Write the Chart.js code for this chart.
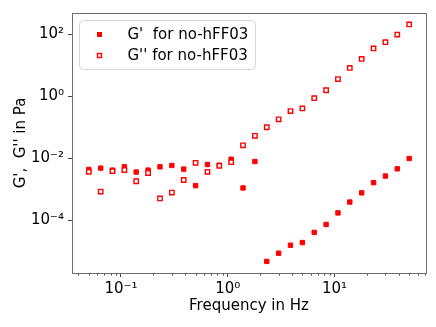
<!DOCTYPE html>
<html>
<head>
<meta charset="utf-8">
<script src="https://cdn.jsdelivr.net/npm/chart.js@4/dist/chart.umd.min.js"></script>
<style>
  html, body { margin: 0; padding: 0; background: #fff; }
</style>
</head>
<body>
<canvas id="myChart" width="436" height="327"></canvas>
<script>
// frequency sweep, Hz
const freqs = [0.05, 0.0646, 0.0834, 0.1077, 0.139, 0.1796, 0.232, 0.2997, 0.387, 0.5,
  0.646, 0.834, 1.077, 1.39, 1.796, 2.32, 2.997, 3.87, 5, 6.46,
  8.34, 10.77, 13.9, 17.96, 23.2, 29.97, 38.7, 50];
// storage modulus G'
const gStorage = [4.43e-3, 4.88e-3, 4.21e-3, 5.37e-3, 3.64e-3, 4.21e-3, 5.37e-3, 5.94e-3, 4.53e-3, 1.33e-3,
  6.39e-3, 6.08e-3, 9.44e-3, 1.12e-3, 7.98e-3, 4.82e-6, 8.87e-6, 1.60e-5, 1.95e-5, 4.14e-5,
  7.45e-5, 1.76e-4, 3.94e-4, 7.79e-4, 1.66e-3, 2.71e-3, 4.63e-3, 9.93e-3];
// loss modulus G''
const gLoss = [3.72e-3, 8.57e-4, 3.9e-3, 4.21e-3, 1.84e-3, 3.38e-3, 5.13e-4, 7.97e-4, 2.02e-3, 7.20e-3,
  3.72e-3, 5.8e-3, 7.59e-3, 2.64e-2, 5.37e-2, 0.101, 0.182, 0.336, 0.407, 0.874,
  1.57, 3.60, 8.25, 16.0, 35.0, 55.6, 97.8, 208];
const seriesLabels = ["G'  for no-hFF03", "G'' for no-hFF03"];
const xTicks = [0.1, 1, 10];
const xTickLabels = ["10\u207B\u00B9", "10\u2070", "10\u00B9"];
const yTicks = [1e-4, 1e-2, 1, 1e2];
const yTickLabels = ["10\u207B\u2074", "10\u207B\u00B2", "10\u2070", "10\u00B2"];

const FONT = "'DejaVu Sans', sans-serif";
Chart.defaults.font.family = FONT;
Chart.defaults.color = '#000';

// box around plot + minor x ticks
const frame = {
  id: 'frame',
  afterDraw(chart) {
    const ctx = chart.ctx;
    const a = chart.chartArea;
    const x = chart.scales.x;
    ctx.save();
    ctx.strokeStyle = '#444';
    ctx.lineWidth = 1;
    for (let d = 0.01; d <= 10; d *= 10) {
      for (let k = 2; k <= 9; k++) {
        const v = d * k;
        if (v < x.min || v > x.max) continue;
        const px = Math.round(x.getPixelForValue(v)) + 0.5;
        ctx.beginPath();
        ctx.moveTo(px, a.bottom);
        ctx.lineTo(px, a.bottom + 2.5);
        ctx.stroke();
      }
    }
    ctx.strokeStyle = '#6e6e6e';
    ctx.strokeRect(Math.round(a.left) + 0.5, Math.round(a.top) + 0.5,
      Math.round(a.right - a.left), Math.round(a.bottom - a.top));
    ctx.restore();
  }
};

// matplotlib-like legend box in the upper left
const boxLegend = {
  id: 'boxLegend',
  afterDatasetsDraw(chart) {
    const ctx = chart.ctx;
    const a = chart.chartArea;
    const bx = a.left + 7.5, by = a.top + 7.5, bw = 176, bh = 49, r = 4;
    ctx.save();
    ctx.beginPath();
    ctx.moveTo(bx + r, by);
    ctx.arcTo(bx + bw, by, bx + bw, by + bh, r);
    ctx.arcTo(bx + bw, by + bh, bx, by + bh, r);
    ctx.arcTo(bx, by + bh, bx, by, r);
    ctx.arcTo(bx, by, bx + bw, by, r);
    ctx.closePath();
    ctx.fillStyle = 'rgba(255,255,255,0.8)';
    ctx.fill();
    ctx.strokeStyle = '#d6d6d6';
    ctx.lineWidth = 1;
    ctx.stroke();
    ctx.font = '15px ' + FONT;
    ctx.textBaseline = 'middle';
    chart.data.datasets.forEach((ds, i) => {
      const cy = by + 14 + i * 21;
      ctx.fillStyle = ds.backgroundColor;
      ctx.strokeStyle = ds.borderColor;
      ctx.lineWidth = ds.borderWidth;
      ctx.fillRect(bx + 18, cy - 2, 4, 4);
      ctx.strokeRect(bx + 18, cy - 2, 4, 4);
      ctx.fillStyle = '#000';
      ctx.fillText(seriesLabels[i], bx + 48, cy + 1);
    });
    ctx.restore();
  }
};

const ctx = document.getElementById('myChart');
new Chart(ctx, {
  type: 'scatter',
  data: {
    datasets: [
      {
        label: seriesLabels[0],
        data: freqs.map((f, i) => ({ x: f, y: gStorage[i] })),
        pointStyle: 'rect',
        pointRadius: 3.1,
        backgroundColor: '#ff0000',
        borderColor: '#ff0000',
        borderWidth: 1,
        order: 1
      },
      {
        label: seriesLabels[1],
        data: freqs.map((f, i) => ({ x: f, y: gLoss[i] })),
        pointStyle: 'rect',
        pointRadius: 3.1,
        backgroundColor: '#ffffff',
        borderColor: '#ff0000',
        borderWidth: 1.4,
        order: 0
      }
    ]
  },
  options: {
    responsive: false,
    animation: false,
    events: [],
    layout: { padding: { left: 0, right: 10, top: 10, bottom: 0 } },
    plugins: { legend: { display: false }, tooltip: { enabled: false } },
    scales: {
      x: {
        type: 'logarithmic',
        min: 0.0348,
        max: 71.9,
        afterBuildTicks: s => { s.ticks = xTicks.map(v => ({ value: v })); },
        afterFit: s => { s.height = 54; },
        ticks: {
          callback: (v, i) => xTickLabels[i],
          font: { size: 15 },
          maxRotation: 0,
          autoSkip: false,
          padding: 3
        },
        grid: { drawOnChartArea: false, tickLength: 4, tickColor: '#444' },
        border: { color: '#6e6e6e' },
        title: { display: true, text: 'Frequency in Hz', font: { size: 15 }, padding: { top: 0, bottom: 12 } }
      },
      y: {
        type: 'logarithmic',
        min: 2.04e-6,
        max: 484,
        afterBuildTicks: s => { s.ticks = yTicks.map(v => ({ value: v })); },
        afterFit: s => { s.width = 72; },
        ticks: {
          callback: (v, i) => yTickLabels[i],
          font: { size: 15 },
          autoSkip: false,
          padding: 4
        },
        grid: { drawOnChartArea: false, tickLength: 4, tickColor: '#444' },
        border: { color: '#6e6e6e' },
        title: { display: true, text: "G',  G'' in Pa", font: { size: 15 }, padding: { top: 12, bottom: 0 } }
      }
    }
  },
  plugins: [frame, boxLegend]
});
</script>
</body>
</html>
